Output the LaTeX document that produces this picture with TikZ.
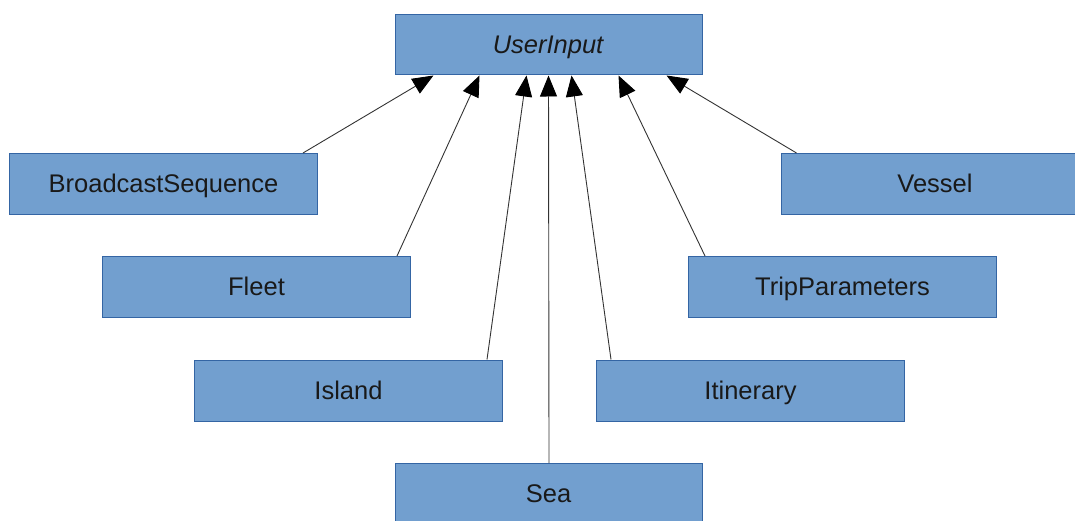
\documentclass[tikz,border=0pt]{standalone}
\usepackage{fontspec}
\setmainfont{Liberation Sans}
\usetikzlibrary{arrows.meta,calc}
\definecolor{boxfill}{HTML}{729FCF}
\definecolor{boxline}{HTML}{3465A4}
\tikzset{
  cls/.style={draw=boxline, fill=boxfill, line width=1pt, minimum width=308pt,
    minimum height=61pt, inner sep=0pt, font=\fontsize{25.5}{30}\selectfont,
    text height=20pt, text depth=3pt, text=black!90},
  inherit/.style={draw=black!80, line width=0.9pt,
    -{Triangle[length=21pt,width=17pt,color=black]}}
}
\begin{document}
\begin{tikzpicture}[x=1pt,y=-1pt]
\useasboundingbox (0,0) rectangle (1075,521);
\clip (0,0) rectangle (1075,521);
% classes
\node[cls, minimum width=307pt, minimum height=60pt] (ui) at (548.5,45) {\textit{UserInput}};
\node[cls] (bs) at (163.5,184) {BroadcastSequence};
\node[cls] (vs) at (935,184) {Vessel};
\node[cls] (fl) at (256.5,287) {Fleet};
\node[cls] (tp) at (842.5,287) {TripParameters};
\node[cls] (is) at (348.5,390.5) {Island};
\node[cls] (it) at (750.5,390.5) {Itinerary};
\node[cls, minimum width=307pt] (sea) at (548.5,494) {Sea};
% generalisation arrows
\draw[inherit] ($(bs.north east)+(-15,0)$) -- ($(ui.south west)+(39,0)$);
\draw[inherit] ($(fl.north east)+(-14,0)$) -- ($(ui.south west)+(85,0)$);
\draw[inherit] ($(is.north east)+(-16,0)$) -- ($(ui.south west)+(132,0)$);
\draw[inherit] ($(sea.north)+(0.5,0)$) -- ($(ui.south west)+(154,0)$);
\draw[inherit] ($(it.north west)+(15,0)$) -- ($(ui.south west)+(177,0)$);
\draw[inherit] ($(tp.north west)+(17,0)$) -- ($(ui.south west)+(224,0)$);
\draw[inherit] ($(vs.north west)+(16,0)$) -- ($(ui.south west)+(272,0)$);
\end{tikzpicture}
\end{document}
